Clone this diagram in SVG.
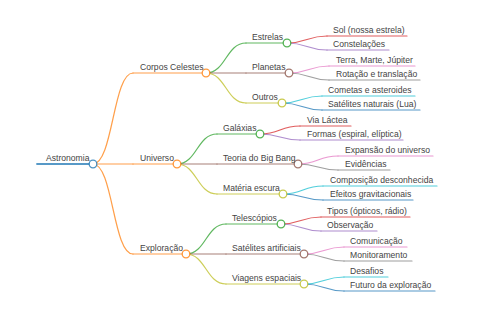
<svg xmlns="http://www.w3.org/2000/svg" width="480" height="320" viewBox="0 0 480 320">
<style>
text{font-family:"Liberation Sans",Arial,sans-serif;font-size:8.6px;fill:#444}
path,line{fill:none;stroke-width:1.2;stroke-linecap:round;stroke-opacity:.75}
circle{fill:#fff;stroke-width:1.3;stroke-opacity:.8}
.c0{stroke:#1f77b4}.c1{stroke:#ff7f0e}.c2{stroke:#2ca02c}.c3{stroke:#d62728}.c4{stroke:#9467bd}
.c5{stroke:#8c564b}.c6{stroke:#e377c2}.c7{stroke:#7f7f7f}.c8{stroke:#bcbd22}.c9{stroke:#17becf}
</style>
<rect width="480" height="320" fill="#fff"/>
<g id="connectors">
<path class="c1" d="M93 164C113 164 113 73 133 73"/>
<path class="c1" d="M93 164H133"/>
<path class="c1" d="M93 164C113 164 113 254 133 254"/>
<path class="c2" d="M206 73C226 73 226 43 246 43"/>
<path class="c5" d="M206 73H246"/>
<path class="c8" d="M206 73C226 73 226 103 246 103"/>
<path class="c2" d="M177 164C197 164 197 134 217 134"/>
<path class="c5" d="M177 164H217"/>
<path class="c8" d="M177 164C197 164 197 194 217 194"/>
<path class="c2" d="M186 254C206 254 206 224 226 224"/>
<path class="c5" d="M186 254H226"/>
<path class="c8" d="M186 254C206 254 206 284 226 284"/>
<path class="c3" d="M287 43C307 43 307 36 327 36"/>
<path class="c4" d="M287 43C307 43 307 50 327 50"/>
<path class="c6" d="M289 73C309 73 309 66 329 66"/>
<path class="c7" d="M289 73C309 73 309 80 329 80"/>
<path class="c9" d="M282 103C302 103 302 96 322 96"/>
<path class="c0" d="M282 103C302 103 302 110 322 110"/>
<path class="c3" d="M260 134C280 134 280 126 300 126"/>
<path class="c4" d="M260 134C280 134 280 140 300 140"/>
<path class="c6" d="M298 164C318 164 318 156 338 156"/>
<path class="c7" d="M298 164C318 164 318 170 338 170"/>
<path class="c9" d="M283 194C303 194 303 186 323 186"/>
<path class="c0" d="M283 194C303 194 303 200 323 200"/>
<path class="c3" d="M281 224C301 224 301 217 321 217"/>
<path class="c4" d="M281 224C301 224 301 231 321 231"/>
<path class="c6" d="M304 254C324 254 324 247 344 247"/>
<path class="c7" d="M304 254C324 254 324 261 344 261"/>
<path class="c9" d="M304 284C324 284 324 277 344 277"/>
<path class="c0" d="M304 284C324 284 324 291 344 291"/>
</g>
<g id="astronomia"><line class="c0" x1="37" y1="164" x2="93" y2="164" style="stroke-width:1.8"/><circle class="c0" cx="93" cy="164" r="3.8"/><text x="46" y="160.5">Astronomia</text></g>
<g id="corpos-celestes"><line class="c1" x1="133" y1="73" x2="206" y2="73"/><circle class="c1" cx="206" cy="73" r="3.8"/><text x="140" y="69.5">Corpos Celestes</text></g>
<g id="universo"><line class="c1" x1="133" y1="164" x2="177" y2="164"/><circle class="c1" cx="177" cy="164" r="3.8"/><text x="140" y="160.5">Universo</text></g>
<g id="exploracao"><line class="c1" x1="133" y1="254" x2="186" y2="254"/><circle class="c1" cx="186" cy="254" r="3.8"/><text x="140" y="250.5">Exploração</text></g>
<g id="estrelas"><line class="c2" x1="246" y1="43" x2="287" y2="43"/><circle class="c2" cx="287" cy="43" r="3.8"/><text x="252" y="39.5">Estrelas</text></g>
<g id="planetas"><line class="c5" x1="246" y1="73" x2="289" y2="73"/><circle class="c5" cx="289" cy="73" r="3.8"/><text x="252" y="69.5">Planetas</text></g>
<g id="outros"><line class="c8" x1="246" y1="103" x2="282" y2="103"/><circle class="c8" cx="282" cy="103" r="3.8"/><text x="252" y="99.5">Outros</text></g>
<g id="galaxias"><line class="c2" x1="217" y1="134" x2="260" y2="134"/><circle class="c2" cx="260" cy="134" r="3.8"/><text x="223" y="130.5">Galáxias</text></g>
<g id="big-bang"><line class="c5" x1="217" y1="164" x2="298" y2="164"/><circle class="c5" cx="298" cy="164" r="3.8"/><text x="223" y="160.5">Teoria do Big Bang</text></g>
<g id="materia-escura"><line class="c8" x1="217" y1="194" x2="283" y2="194"/><circle class="c8" cx="283" cy="194" r="3.8"/><text x="223" y="190.5">Matéria escura</text></g>
<g id="telescopios"><line class="c2" x1="226" y1="224" x2="281" y2="224"/><circle class="c2" cx="281" cy="224" r="3.8"/><text x="232" y="220.5">Telescópios</text></g>
<g id="satelites-artificiais"><line class="c5" x1="226" y1="254" x2="304" y2="254"/><circle class="c5" cx="304" cy="254" r="3.8"/><text x="232" y="250.5">Satélites artificiais</text></g>
<g id="viagens-espaciais"><line class="c8" x1="226" y1="284" x2="304" y2="284"/><circle class="c8" cx="304" cy="284" r="3.8"/><text x="232" y="280.5">Viagens espaciais</text></g>
<g id="sol"><line class="c3" x1="327" y1="36" x2="407" y2="36"/><text x="333" y="32.5">Sol (nossa estrela)</text></g>
<g id="constelacoes"><line class="c4" x1="327" y1="50" x2="389" y2="50"/><text x="333" y="46.5">Constelações</text></g>
<g id="terra"><line class="c6" x1="329" y1="66" x2="415" y2="66"/><text x="336" y="62.5">Terra, Marte, Júpiter</text></g>
<g id="rotacao"><line class="c7" x1="329" y1="80" x2="420" y2="80"/><text x="336" y="76.5">Rotação e translação</text></g>
<g id="cometas"><line class="c9" x1="322" y1="96" x2="415" y2="96"/><text x="328" y="92.5">Cometas e asteroides</text></g>
<g id="satelites-naturais"><line class="c0" x1="322" y1="110" x2="420" y2="110"/><text x="328" y="106.5">Satélites naturais (Lua)</text></g>
<g id="via-lactea"><line class="c3" x1="300" y1="126" x2="351" y2="126"/><text x="307" y="122.5">Via Láctea</text></g>
<g id="formas"><line class="c4" x1="300" y1="140" x2="403" y2="140"/><text x="307" y="136.5">Formas (espiral, elíptica)</text></g>
<g id="expansao"><line class="c6" x1="338" y1="156" x2="433" y2="156"/><text x="345" y="152.5">Expansão do universo</text></g>
<g id="evidencias"><line class="c7" x1="338" y1="170" x2="390" y2="170"/><text x="345" y="166.5">Evidências</text></g>
<g id="composicao"><line class="c9" x1="323" y1="186" x2="437" y2="186"/><text x="330" y="182.5">Composição desconhecida</text></g>
<g id="efeitos"><line class="c0" x1="323" y1="200" x2="413" y2="200"/><text x="330" y="196.5">Efeitos gravitacionais</text></g>
<g id="tipos"><line class="c3" x1="321" y1="217" x2="410" y2="217"/><text x="327" y="213.5">Tipos (ópticos, rádio)</text></g>
<g id="observacao"><line class="c4" x1="321" y1="231" x2="377" y2="231"/><text x="327" y="227.5">Observação</text></g>
<g id="comunicacao"><line class="c6" x1="344" y1="247" x2="407" y2="247"/><text x="350" y="243.5">Comunicação</text></g>
<g id="monitoramento"><line class="c7" x1="344" y1="261" x2="412" y2="261"/><text x="350" y="257.5">Monitoramento</text></g>
<g id="desafios"><line class="c9" x1="344" y1="277" x2="388" y2="277"/><text x="350" y="273.5">Desafios</text></g>
<g id="futuro"><line class="c0" x1="344" y1="291" x2="435" y2="291"/><text x="350" y="287.5">Futuro da exploração</text></g>
</svg>
